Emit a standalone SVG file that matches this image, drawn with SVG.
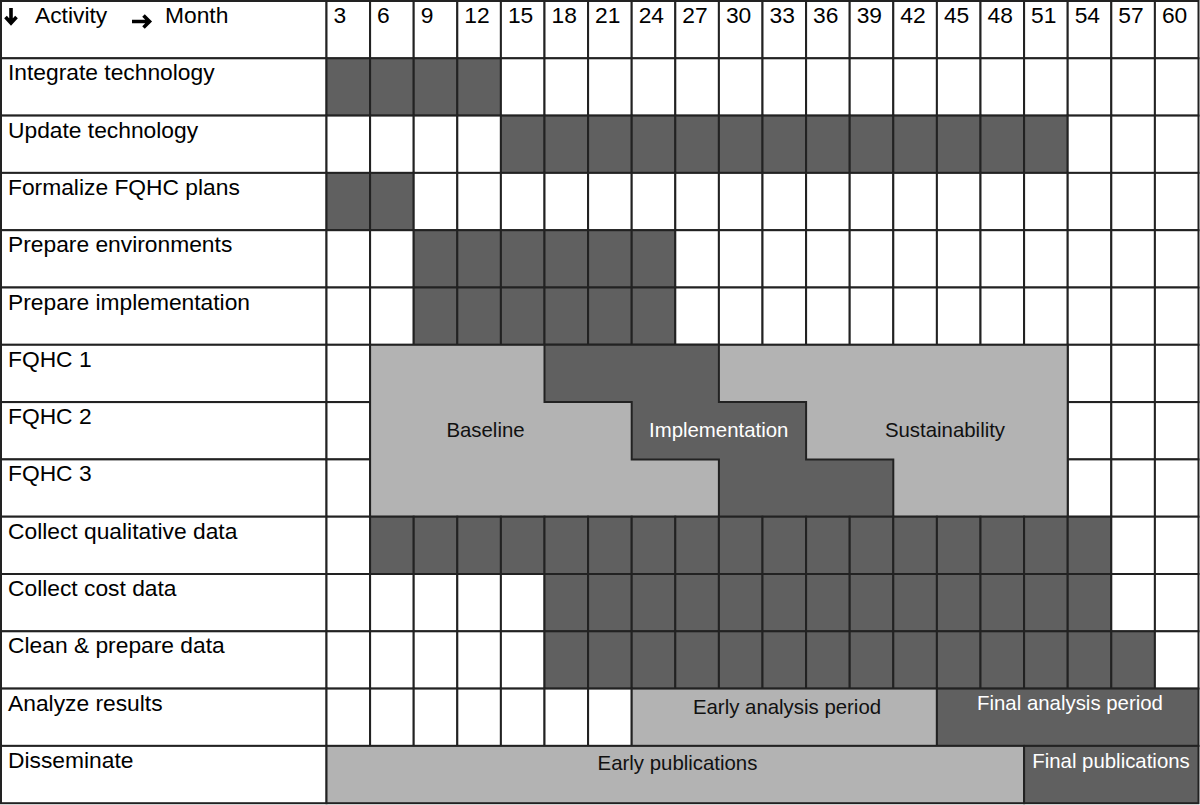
<svg xmlns="http://www.w3.org/2000/svg" width="1200" height="805" viewBox="0 0 1200 805">
<defs>
<style>
.c{fill:#ffffff;stroke:#222;stroke-width:2}
.d{fill:#606060;stroke:#222;stroke-width:2}
.l{fill:#b3b3b3;stroke:#222;stroke-width:2}
.t{font-family:"Liberation Sans",Arial,sans-serif;font-size:22.8px;fill:#000}
.b{font-family:"Liberation Sans",Arial,sans-serif;font-size:20.4px;text-anchor:middle}
.bk{fill:#111}
.wh{fill:#fff}
.arr{fill:none;stroke:#000;stroke-width:3.6;stroke-linecap:butt;stroke-linejoin:miter}
</style>
</defs>
<rect x="0" y="0" width="1200" height="805" fill="#fff"/>

<g id="header">
<rect class="c" x="1" y="1" width="325.5" height="57.3"/>
<path class="arr" d="M11,8 V23 M5.5,17 L11,23 L16.5,17"/>
<text class="t" x="35" y="23">Activity</text>
<path class="arr" d="M132,21.5 H149 M143.5,15.5 L149.5,21.5 L143.5,27.5"/>
<text class="t" x="165" y="23">Month</text>
<rect class="c" x="326.5" y="1" width="43.6" height="57.3"/><text class="t" x="333.5" y="23">3</text>
<rect class="c" x="370.1" y="1" width="43.6" height="57.3"/><text class="t" x="377.1" y="23">6</text>
<rect class="c" x="413.7" y="1" width="43.6" height="57.3"/><text class="t" x="420.7" y="23">9</text>
<rect class="c" x="457.3" y="1" width="43.6" height="57.3"/><text class="t" x="464.3" y="23">12</text>
<rect class="c" x="500.9" y="1" width="43.6" height="57.3"/><text class="t" x="507.9" y="23">15</text>
<rect class="c" x="544.5" y="1" width="43.6" height="57.3"/><text class="t" x="551.5" y="23">18</text>
<rect class="c" x="588.1" y="1" width="43.6" height="57.3"/><text class="t" x="595.1" y="23">21</text>
<rect class="c" x="631.7" y="1" width="43.6" height="57.3"/><text class="t" x="638.7" y="23">24</text>
<rect class="c" x="675.3" y="1" width="43.6" height="57.3"/><text class="t" x="682.3" y="23">27</text>
<rect class="c" x="718.9" y="1" width="43.6" height="57.3"/><text class="t" x="725.9" y="23">30</text>
<rect class="c" x="762.5" y="1" width="43.6" height="57.3"/><text class="t" x="769.5" y="23">33</text>
<rect class="c" x="806.1" y="1" width="43.6" height="57.3"/><text class="t" x="813.1" y="23">36</text>
<rect class="c" x="849.7" y="1" width="43.6" height="57.3"/><text class="t" x="856.7" y="23">39</text>
<rect class="c" x="893.3" y="1" width="43.6" height="57.3"/><text class="t" x="900.3" y="23">42</text>
<rect class="c" x="936.9" y="1" width="43.6" height="57.3"/><text class="t" x="943.9" y="23">45</text>
<rect class="c" x="980.5" y="1" width="43.6" height="57.3"/><text class="t" x="987.5" y="23">48</text>
<rect class="c" x="1024.1" y="1" width="43.6" height="57.3"/><text class="t" x="1031.1" y="23">51</text>
<rect class="c" x="1067.7" y="1" width="43.6" height="57.3"/><text class="t" x="1074.7" y="23">54</text>
<rect class="c" x="1111.3" y="1" width="43.6" height="57.3"/><text class="t" x="1118.3" y="23">57</text>
<rect class="c" x="1154.9" y="1" width="43.6" height="57.3"/><text class="t" x="1161.9" y="23">60</text>
</g>

<g id="row-integrate">
<rect class="c" x="1" y="58.3" width="325.5" height="57.3"/><text class="t" x="8" y="80.3">Integrate technology</text>
<g transform="translate(0,58.3)">
<rect class="d" x="326.5" width="43.6" height="57.3"/><rect class="d" x="370.1" width="43.6" height="57.3"/><rect class="d" x="413.7" width="43.6" height="57.3"/><rect class="d" x="457.3" width="43.6" height="57.3"/><rect class="c" x="500.9" width="43.6" height="57.3"/><rect class="c" x="544.5" width="43.6" height="57.3"/><rect class="c" x="588.1" width="43.6" height="57.3"/><rect class="c" x="631.7" width="43.6" height="57.3"/><rect class="c" x="675.3" width="43.6" height="57.3"/><rect class="c" x="718.9" width="43.6" height="57.3"/><rect class="c" x="762.5" width="43.6" height="57.3"/><rect class="c" x="806.1" width="43.6" height="57.3"/><rect class="c" x="849.7" width="43.6" height="57.3"/><rect class="c" x="893.3" width="43.6" height="57.3"/><rect class="c" x="936.9" width="43.6" height="57.3"/><rect class="c" x="980.5" width="43.6" height="57.3"/><rect class="c" x="1024.1" width="43.6" height="57.3"/><rect class="c" x="1067.7" width="43.6" height="57.3"/><rect class="c" x="1111.3" width="43.6" height="57.3"/><rect class="c" x="1154.9" width="43.6" height="57.3"/>
</g>
</g>

<g id="row-update">
<rect class="c" x="1" y="115.6" width="325.5" height="57.3"/><text class="t" x="8" y="137.6">Update technology</text>
<g transform="translate(0,115.6)">
<rect class="c" x="326.5" width="43.6" height="57.3"/><rect class="c" x="370.1" width="43.6" height="57.3"/><rect class="c" x="413.7" width="43.6" height="57.3"/><rect class="c" x="457.3" width="43.6" height="57.3"/><rect class="d" x="500.9" width="43.6" height="57.3"/><rect class="d" x="544.5" width="43.6" height="57.3"/><rect class="d" x="588.1" width="43.6" height="57.3"/><rect class="d" x="631.7" width="43.6" height="57.3"/><rect class="d" x="675.3" width="43.6" height="57.3"/><rect class="d" x="718.9" width="43.6" height="57.3"/><rect class="d" x="762.5" width="43.6" height="57.3"/><rect class="d" x="806.1" width="43.6" height="57.3"/><rect class="d" x="849.7" width="43.6" height="57.3"/><rect class="d" x="893.3" width="43.6" height="57.3"/><rect class="d" x="936.9" width="43.6" height="57.3"/><rect class="d" x="980.5" width="43.6" height="57.3"/><rect class="d" x="1024.1" width="43.6" height="57.3"/><rect class="c" x="1067.7" width="43.6" height="57.3"/><rect class="c" x="1111.3" width="43.6" height="57.3"/><rect class="c" x="1154.9" width="43.6" height="57.3"/>
</g>
</g>

<g id="row-formalize">
<rect class="c" x="1" y="172.9" width="325.5" height="57.3"/><text class="t" x="8" y="194.9">Formalize FQHC plans</text>
<g transform="translate(0,172.9)">
<rect class="d" x="326.5" width="43.6" height="57.3"/><rect class="d" x="370.1" width="43.6" height="57.3"/><rect class="c" x="413.7" width="43.6" height="57.3"/><rect class="c" x="457.3" width="43.6" height="57.3"/><rect class="c" x="500.9" width="43.6" height="57.3"/><rect class="c" x="544.5" width="43.6" height="57.3"/><rect class="c" x="588.1" width="43.6" height="57.3"/><rect class="c" x="631.7" width="43.6" height="57.3"/><rect class="c" x="675.3" width="43.6" height="57.3"/><rect class="c" x="718.9" width="43.6" height="57.3"/><rect class="c" x="762.5" width="43.6" height="57.3"/><rect class="c" x="806.1" width="43.6" height="57.3"/><rect class="c" x="849.7" width="43.6" height="57.3"/><rect class="c" x="893.3" width="43.6" height="57.3"/><rect class="c" x="936.9" width="43.6" height="57.3"/><rect class="c" x="980.5" width="43.6" height="57.3"/><rect class="c" x="1024.1" width="43.6" height="57.3"/><rect class="c" x="1067.7" width="43.6" height="57.3"/><rect class="c" x="1111.3" width="43.6" height="57.3"/><rect class="c" x="1154.9" width="43.6" height="57.3"/>
</g>
</g>

<g id="row-prep-env">
<rect class="c" x="1" y="230.2" width="325.5" height="57.3"/><text class="t" x="8" y="252.2">Prepare environments</text>
<g transform="translate(0,230.2)">
<rect class="c" x="326.5" width="43.6" height="57.3"/><rect class="c" x="370.1" width="43.6" height="57.3"/><rect class="d" x="413.7" width="43.6" height="57.3"/><rect class="d" x="457.3" width="43.6" height="57.3"/><rect class="d" x="500.9" width="43.6" height="57.3"/><rect class="d" x="544.5" width="43.6" height="57.3"/><rect class="d" x="588.1" width="43.6" height="57.3"/><rect class="d" x="631.7" width="43.6" height="57.3"/><rect class="c" x="675.3" width="43.6" height="57.3"/><rect class="c" x="718.9" width="43.6" height="57.3"/><rect class="c" x="762.5" width="43.6" height="57.3"/><rect class="c" x="806.1" width="43.6" height="57.3"/><rect class="c" x="849.7" width="43.6" height="57.3"/><rect class="c" x="893.3" width="43.6" height="57.3"/><rect class="c" x="936.9" width="43.6" height="57.3"/><rect class="c" x="980.5" width="43.6" height="57.3"/><rect class="c" x="1024.1" width="43.6" height="57.3"/><rect class="c" x="1067.7" width="43.6" height="57.3"/><rect class="c" x="1111.3" width="43.6" height="57.3"/><rect class="c" x="1154.9" width="43.6" height="57.3"/>
</g>
</g>

<g id="row-prep-impl">
<rect class="c" x="1" y="287.5" width="325.5" height="57.3"/><text class="t" x="8" y="309.5">Prepare implementation</text>
<g transform="translate(0,287.5)">
<rect class="c" x="326.5" width="43.6" height="57.3"/><rect class="c" x="370.1" width="43.6" height="57.3"/><rect class="d" x="413.7" width="43.6" height="57.3"/><rect class="d" x="457.3" width="43.6" height="57.3"/><rect class="d" x="500.9" width="43.6" height="57.3"/><rect class="d" x="544.5" width="43.6" height="57.3"/><rect class="d" x="588.1" width="43.6" height="57.3"/><rect class="d" x="631.7" width="43.6" height="57.3"/><rect class="c" x="675.3" width="43.6" height="57.3"/><rect class="c" x="718.9" width="43.6" height="57.3"/><rect class="c" x="762.5" width="43.6" height="57.3"/><rect class="c" x="806.1" width="43.6" height="57.3"/><rect class="c" x="849.7" width="43.6" height="57.3"/><rect class="c" x="893.3" width="43.6" height="57.3"/><rect class="c" x="936.9" width="43.6" height="57.3"/><rect class="c" x="980.5" width="43.6" height="57.3"/><rect class="c" x="1024.1" width="43.6" height="57.3"/><rect class="c" x="1067.7" width="43.6" height="57.3"/><rect class="c" x="1111.3" width="43.6" height="57.3"/><rect class="c" x="1154.9" width="43.6" height="57.3"/>
</g>
</g>

<g id="row-fqhc">
<rect class="c" x="1" y="344.8" width="325.5" height="57.3"/><text class="t" x="8" y="366.8">FQHC 1</text>
<rect class="c" x="1" y="402.1" width="325.5" height="57.3"/><text class="t" x="8" y="424.1">FQHC 2</text>
<rect class="c" x="1" y="459.4" width="325.5" height="57.3"/><text class="t" x="8" y="481.4">FQHC 3</text>
<rect class="c" x="326.5" y="344.8" width="43.6" height="57.3"/>
<rect class="c" x="326.5" y="402.1" width="43.6" height="57.3"/>
<rect class="c" x="326.5" y="459.4" width="43.6" height="57.3"/>
<g transform="translate(0,344.8)"><rect class="c" x="1067.7" width="43.6" height="57.3"/><rect class="c" x="1111.3" width="43.6" height="57.3"/><rect class="c" x="1154.9" width="43.6" height="57.3"/></g>
<g transform="translate(0,402.1)"><rect class="c" x="1067.7" width="43.6" height="57.3"/><rect class="c" x="1111.3" width="43.6" height="57.3"/><rect class="c" x="1154.9" width="43.6" height="57.3"/></g>
<g transform="translate(0,459.4)"><rect class="c" x="1067.7" width="43.6" height="57.3"/><rect class="c" x="1111.3" width="43.6" height="57.3"/><rect class="c" x="1154.9" width="43.6" height="57.3"/></g>
<rect class="l" x="370.1" y="344.8" width="697.6" height="171.9"/>
<polygon class="d" points="544.5,344.8 718.9,344.8 718.9,402.1 806.1,402.1 806.1,459.4 893.3,459.4 893.3,516.7 718.9,516.7 718.9,459.4 631.7,459.4 631.7,402.1 544.5,402.1"/>
<text class="b bk" x="485.5" y="437">Baseline</text>
<text class="b wh" x="718.7" y="437">Implementation</text>
<text class="b bk" x="945" y="437">Sustainability</text>
</g>

<g id="row-qual">
<rect class="c" x="1" y="516.7" width="325.5" height="57.3"/><text class="t" x="8" y="538.7">Collect qualitative data</text>
<g transform="translate(0,516.7)">
<rect class="c" x="326.5" width="43.6" height="57.3"/><rect class="d" x="370.1" width="43.6" height="57.3"/><rect class="d" x="413.7" width="43.6" height="57.3"/><rect class="d" x="457.3" width="43.6" height="57.3"/><rect class="d" x="500.9" width="43.6" height="57.3"/><rect class="d" x="544.5" width="43.6" height="57.3"/><rect class="d" x="588.1" width="43.6" height="57.3"/><rect class="d" x="631.7" width="43.6" height="57.3"/><rect class="d" x="675.3" width="43.6" height="57.3"/><rect class="d" x="718.9" width="43.6" height="57.3"/><rect class="d" x="762.5" width="43.6" height="57.3"/><rect class="d" x="806.1" width="43.6" height="57.3"/><rect class="d" x="849.7" width="43.6" height="57.3"/><rect class="d" x="893.3" width="43.6" height="57.3"/><rect class="d" x="936.9" width="43.6" height="57.3"/><rect class="d" x="980.5" width="43.6" height="57.3"/><rect class="d" x="1024.1" width="43.6" height="57.3"/><rect class="d" x="1067.7" width="43.6" height="57.3"/><rect class="c" x="1111.3" width="43.6" height="57.3"/><rect class="c" x="1154.9" width="43.6" height="57.3"/>
</g>
</g>

<g id="row-cost">
<rect class="c" x="1" y="574" width="325.5" height="57.3"/><text class="t" x="8" y="596">Collect cost data</text>
<g transform="translate(0,574)">
<rect class="c" x="326.5" width="43.6" height="57.3"/><rect class="c" x="370.1" width="43.6" height="57.3"/><rect class="c" x="413.7" width="43.6" height="57.3"/><rect class="c" x="457.3" width="43.6" height="57.3"/><rect class="c" x="500.9" width="43.6" height="57.3"/><rect class="d" x="544.5" width="43.6" height="57.3"/><rect class="d" x="588.1" width="43.6" height="57.3"/><rect class="d" x="631.7" width="43.6" height="57.3"/><rect class="d" x="675.3" width="43.6" height="57.3"/><rect class="d" x="718.9" width="43.6" height="57.3"/><rect class="d" x="762.5" width="43.6" height="57.3"/><rect class="d" x="806.1" width="43.6" height="57.3"/><rect class="d" x="849.7" width="43.6" height="57.3"/><rect class="d" x="893.3" width="43.6" height="57.3"/><rect class="d" x="936.9" width="43.6" height="57.3"/><rect class="d" x="980.5" width="43.6" height="57.3"/><rect class="d" x="1024.1" width="43.6" height="57.3"/><rect class="d" x="1067.7" width="43.6" height="57.3"/><rect class="c" x="1111.3" width="43.6" height="57.3"/><rect class="c" x="1154.9" width="43.6" height="57.3"/>
</g>
</g>

<g id="row-clean">
<rect class="c" x="1" y="631.3" width="325.5" height="57.3"/><text class="t" x="8" y="653.3">Clean &amp; prepare data</text>
<g transform="translate(0,631.3)">
<rect class="c" x="326.5" width="43.6" height="57.3"/><rect class="c" x="370.1" width="43.6" height="57.3"/><rect class="c" x="413.7" width="43.6" height="57.3"/><rect class="c" x="457.3" width="43.6" height="57.3"/><rect class="c" x="500.9" width="43.6" height="57.3"/><rect class="d" x="544.5" width="43.6" height="57.3"/><rect class="d" x="588.1" width="43.6" height="57.3"/><rect class="d" x="631.7" width="43.6" height="57.3"/><rect class="d" x="675.3" width="43.6" height="57.3"/><rect class="d" x="718.9" width="43.6" height="57.3"/><rect class="d" x="762.5" width="43.6" height="57.3"/><rect class="d" x="806.1" width="43.6" height="57.3"/><rect class="d" x="849.7" width="43.6" height="57.3"/><rect class="d" x="893.3" width="43.6" height="57.3"/><rect class="d" x="936.9" width="43.6" height="57.3"/><rect class="d" x="980.5" width="43.6" height="57.3"/><rect class="d" x="1024.1" width="43.6" height="57.3"/><rect class="d" x="1067.7" width="43.6" height="57.3"/><rect class="d" x="1111.3" width="43.6" height="57.3"/><rect class="c" x="1154.9" width="43.6" height="57.3"/>
</g>
</g>

<g id="row-analyze">
<rect class="c" x="1" y="688.6" width="325.5" height="57.3"/><text class="t" x="8" y="710.6">Analyze results</text>
<g transform="translate(0,688.6)">
<rect class="c" x="326.5" width="43.6" height="57.3"/><rect class="c" x="370.1" width="43.6" height="57.3"/><rect class="c" x="413.7" width="43.6" height="57.3"/><rect class="c" x="457.3" width="43.6" height="57.3"/><rect class="c" x="500.9" width="43.6" height="57.3"/><rect class="c" x="544.5" width="43.6" height="57.3"/><rect class="c" x="588.1" width="43.6" height="57.3"/>
<rect class="l" x="631.7" width="305.2" height="57.3"/>
<rect class="d" x="936.9" width="261.6" height="57.3"/>
</g>
<text class="b bk" x="787" y="714">Early analysis period</text>
<text class="b wh" x="1070" y="710">Final analysis period</text>
</g>

<g id="row-disseminate">
<rect class="c" x="1" y="745.9" width="325.5" height="57.3"/><text class="t" x="8" y="767.9">Disseminate</text>
<rect class="l" x="326.5" y="745.9" width="697.6" height="57.3"/>
<rect class="d" x="1024.1" y="745.9" width="174.4" height="57.3"/>
<text class="b bk" x="677.5" y="770">Early publications</text>
<text class="b wh" x="1111" y="768">Final publications</text>
</g>
</svg>
